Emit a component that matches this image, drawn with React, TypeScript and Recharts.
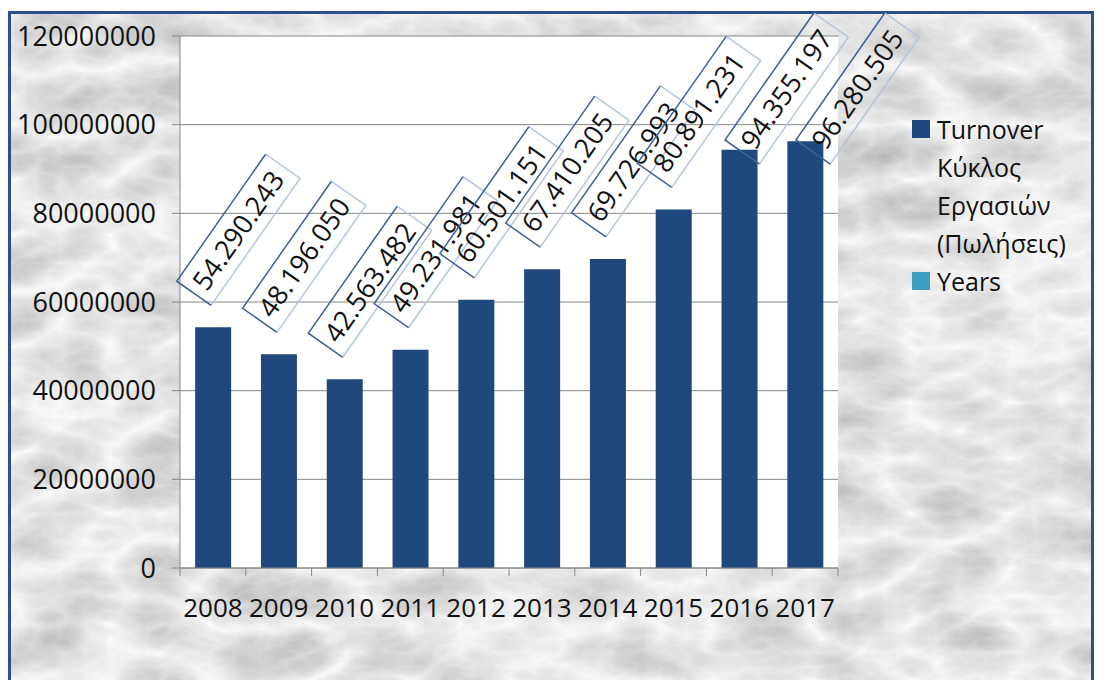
import React from 'react';
import { BarChart, Bar, XAxis, YAxis, CartesianGrid, LabelList } from 'recharts';

const years = ['2008', '2009', '2010', '2011', '2012', '2013', '2014', '2015', '2016', '2017'];
const turnover = [
  54290243, 48196050, 42563482, 49231981, 60501151, 67410205, 69726993, 80891231, 94355197,
  96280505,
];
const yTicks = [0, 20000000, 40000000, 60000000, 80000000, 100000000, 120000000];
const legendItems = [
  { lines: ['Turnover', 'Κύκλος', 'Εργασιών', '(Πωλήσεις)'], color: '#1F497D' },
  { lines: ['Years'], color: '#3E9DBE' },
];

const data = years.map((year, i) => ({ year, turnover: turnover[i] }));

const W = 1097;
const H = 680;
const PLOT_LEFT = 180;
const PLOT_RIGHT = 838;
const PLOT_TOP = 36;
const PLOT_BOTTOM = 568;
const BAND = (PLOT_RIGHT - PLOT_LEFT) / years.length;
const FONT = '"Open Sans", "Noto Sans", sans-serif';

const fmt = (v: number) => String(v).replace(/\B(?=(\d{3})+(?!\d))/g, '.');

// rotated boxed data label, pushed down when it would leave the chart
const BoxLabel = (props: any) => {
  const { x, y, width, value } = props;
  const bw = 155;
  const bh = 42;
  let ax = x + width / 2 - 2;
  let ay = y - 22;
  const topY = ay - (0.8192 * bw + 0.5736 * bh);
  if (topY < 13) {
    const d = 13 - topY;
    ay += d;
    ax += d * 0.6;
  }
  return (
    <g transform={`translate(${ax},${ay}) rotate(-55)`}>
      <path d={`M0,0 L${bw},0 L${bw},${-bh}`} fill="none" stroke="#b4c5dc" strokeWidth={1.5} />
      <path d={`M0,0 L0,${-bh} L${bw},${-bh}`} fill="none" stroke="#3f6195" strokeWidth={1.5} />
      <text x={8} y={-11} fontSize={27} fontFamily={FONT} fill="#111">
        {fmt(value)}
      </text>
    </g>
  );
};

const YearTick = (props: any) => {
  const { x, payload, index } = props;
  const left = x - BAND / 2;
  return (
    <g>
      <line x1={left} x2={left} y1={PLOT_BOTTOM} y2={PLOT_BOTTOM + 8} stroke="#868686" />
      {index === years.length - 1 && (
        <line
          x1={x + BAND / 2}
          x2={x + BAND / 2}
          y1={PLOT_BOTTOM}
          y2={PLOT_BOTTOM + 8}
          stroke="#868686"
        />
      )}
      <text
        x={x}
        y={PLOT_BOTTOM + 49}
        textAnchor="middle"
        fontSize={26}
        fontFamily={FONT}
        fill="#111"
      >
        {payload.value}
      </text>
    </g>
  );
};

export default function App() {
  return (
    <div style={{ position: 'absolute', left: 0, top: 0, width: W, height: H, overflow: 'hidden', background: '#fff' }}>
      <div
        style={{
          position: 'absolute',
          left: 8,
          top: 11,
          width: 1086,
          height: 720,
          border: '3px solid #2c4f8e',
          boxSizing: 'border-box',
          overflow: 'hidden',
        }}
      >
        <svg width={1086} height={720} style={{ position: 'absolute', left: 0, top: 0 }}>
          <defs>
            <filter id="marble" x="0" y="0" width="100%" height="100%">
              <feTurbulence type="turbulence" baseFrequency="0.01 0.018" numOctaves={5} seed={11} />
              <feColorMatrix
                type="matrix"
                values="-0.55 0 0 0 0.97  -0.55 0 0 0 0.97  -0.55 0 0 0 0.97  0 0 0 0 1"
              />
            </filter>
          </defs>
          <rect width={1086} height={720} filter="url(#marble)" />
        </svg>
      </div>
      <div style={{ position: 'absolute', left: 0, top: 0 }}>
        <BarChart
          width={W}
          height={H}
          data={data}
          barCategoryGap="23%"
          margin={{ top: PLOT_TOP, right: W - PLOT_RIGHT, bottom: H - PLOT_BOTTOM - 50, left: 0 }}
        >
          <CartesianGrid
            xAxisId="bottom"
            yAxisId="left"
            vertical={false}
            stroke="#868686"
            fill="#ffffff"
            fillOpacity={1}
          />
          <XAxis
            xAxisId="bottom"
            dataKey="year"
            height={50}
            axisLine={{ stroke: '#868686' }}
            tickLine={false}
            interval={0}
            tick={<YearTick />}
          />
          <XAxis
            xAxisId="top"
            orientation="top"
            dataKey="year"
            height={0}
            tick={false}
            tickLine={false}
            axisLine={{ stroke: '#a7bddb', strokeWidth: 1.5 }}
          />
          <YAxis
            yAxisId="left"
            width={PLOT_LEFT}
            domain={[0, 120000000]}
            ticks={yTicks}
            interval={0}
            tickSize={8}
            tickMargin={16}
            axisLine={{ stroke: '#868686' }}
            tickLine={{ stroke: '#868686' }}
            tick={{ fontSize: 27, fontFamily: FONT, fill: '#111' }}
          />
          <YAxis
            yAxisId="right"
            orientation="right"
            width={0}
            domain={[0, 120000000]}
            tick={false}
            tickLine={false}
            axisLine={{ stroke: '#a7bddb', strokeWidth: 1.5 }}
          />
          <Bar
            xAxisId="bottom"
            yAxisId="left"
            dataKey="turnover"
            fill="#1F497D"
            isAnimationActive={false}
          >
            <LabelList dataKey="turnover" content={<BoxLabel />} />
          </Bar>
        </BarChart>
      </div>
      <div style={{ position: 'absolute', left: 912, top: 110, fontFamily: FONT, fontSize: 25, color: '#111', lineHeight: '38px' }}>
        {legendItems.map((item) => (
          <div key={item.lines[0]} style={{ position: 'relative', paddingLeft: 25 }}>
            <span
              style={{
                position: 'absolute',
                left: 0,
                top: 10,
                width: 18,
                height: 18,
                background: item.color,
              }}
            />
            {item.lines.map((l) => (
              <div key={l}>{l}</div>
            ))}
          </div>
        ))}
      </div>
    </div>
  );
}
